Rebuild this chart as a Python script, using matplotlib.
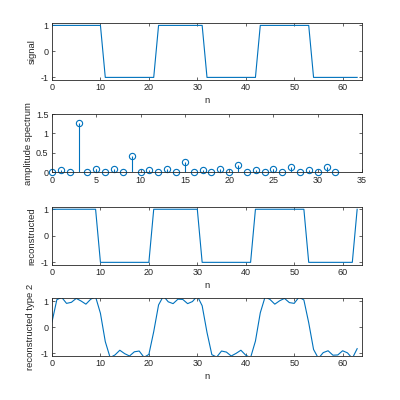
import matplotlib
matplotlib.use("Agg")
import matplotlib.pyplot as plt

plt.rcParams['font.family'] = ['Liberation Sans', 'DejaVu Sans']
plt.rcParams['axes.unicode_minus'] = False

n = list(range(64))
signal = [1]*11 + [-1]*11 + [1]*10 + [-1]*11 + [1]*11 + [-1]*10

k = list(range(33))
amp = [0.01, 0.07, 0.01, 1.28, 0.01, 0.08, 0.01, 0.09, 0.01, 0.43,
       0.01, 0.07, 0.01, 0.09, 0.01, 0.26, 0.01, 0.07, 0.01, 0.10,
       0.01, 0.20, 0.01, 0.07, 0.01, 0.10, 0.01, 0.15, 0.01, 0.07,
       0.01, 0.13, 0.01]

recon = [1]*10 + [-1]*11 + [1]*10 + [-1]*11 + [1]*11 + [-1]*10 + [1]

recon2 = [0.20, 1.05, 1.14, 0.91, 0.95, 1.10, 1.00, 0.88, 1.07, 1.16, 0.53,
          -0.55, -1.16, -1.06, -0.88, -1.01, -1.10, -0.94, -0.91, -1.15, -1.04, -0.17,
          0.85, 1.19, 0.97, 0.90, 1.07, 1.06, 0.90, 0.98, 1.19, 0.82,
          -0.20, -1.05, -1.14, -0.91, -0.95, -1.10, -1.00, -0.88, -1.07, -1.16, -0.53,
          0.55, 1.16, 1.06, 0.88, 1.01, 1.10, 0.94, 0.91, 1.15, 1.04, 0.17,
          -0.85, -1.19, -0.97, -0.90, -1.07, -1.06, -0.90, -0.98, -1.19, -0.82]

blue = '#0072BD'
gray = '#262626'
LFS = 6.8
TFS = 6.5

fig = plt.figure(figsize=(4, 4), dpi=100)

def style(ax):
    for s in ax.spines.values():
        s.set_color(gray)
        s.set_linewidth(0.6)
    ax.tick_params(direction='in', length=2.5, width=0.5, colors=gray,
                   labelsize=TFS, top=True, right=True, pad=2.5)

ax1 = fig.add_axes([0.13, 0.80, 0.775, 0.143])
ax1.plot(n, signal, color=blue, lw=0.8)
ax1.set_xlim(0, 64)
ax1.set_ylim(-1.1, 1.1)
ax1.set_xticks([0, 10, 20, 30, 40, 50, 60])
ax1.set_yticks([-1, 0, 1])
ax1.set_xlabel('n', fontsize=LFS, color=gray, labelpad=2.5)
ax1.set_ylabel('signal', fontsize=LFS, color=gray, labelpad=3)
style(ax1)

ax2 = fig.add_axes([0.13, 0.569, 0.775, 0.146])
ml, sl, bl = ax2.stem(k, amp, basefmt=' ')
plt.setp(sl, color=blue, linewidth=0.8)
plt.setp(ml, markerfacecolor='none', markeredgecolor=blue, markersize=4.5,
         markeredgewidth=0.8)
ml.set_clip_on(False)
ax2.set_xlim(0, 35)
ax2.set_ylim(0, 1.5)
ax2.set_xticks([0, 5, 10, 15, 20, 25, 30, 35])
ax2.set_yticks([0, 0.5, 1, 1.5])
ax2.set_yticklabels(['0', '0.5', '1', '1.5'])
ax2.set_ylabel('amplitude spectrum', fontsize=LFS, color=gray, labelpad=2)
style(ax2)

ax3 = fig.add_axes([0.13, 0.3375, 0.775, 0.146])
ax3.plot(n, recon, color=blue, lw=0.8)
ax3.set_xlim(0, 64)
ax3.set_ylim(-1.1, 1.1)
ax3.set_xticks([0, 10, 20, 30, 40, 50, 60])
ax3.set_yticks([-1, 0, 1])
ax3.set_xlabel('n', fontsize=LFS, color=gray, labelpad=2.5)
ax3.set_ylabel('reconstructed', fontsize=LFS, color=gray, labelpad=3)
style(ax3)

ax4 = fig.add_axes([0.13, 0.11, 0.775, 0.144])
ax4.plot(n, recon2, color=blue, lw=0.8)
ax4.set_xlim(0, 64)
ax4.set_ylim(-1.1, 1.1)
ax4.set_xticks([0, 10, 20, 30, 40, 50, 60])
ax4.set_yticks([-1, 0, 1])
ax4.set_xlabel('n', fontsize=LFS, color=gray, labelpad=2.5)
ax4.set_ylabel('reconstructed type 2', fontsize=LFS, color=gray, labelpad=4)
style(ax4)

fig.savefig('out.png', dpi=100)
